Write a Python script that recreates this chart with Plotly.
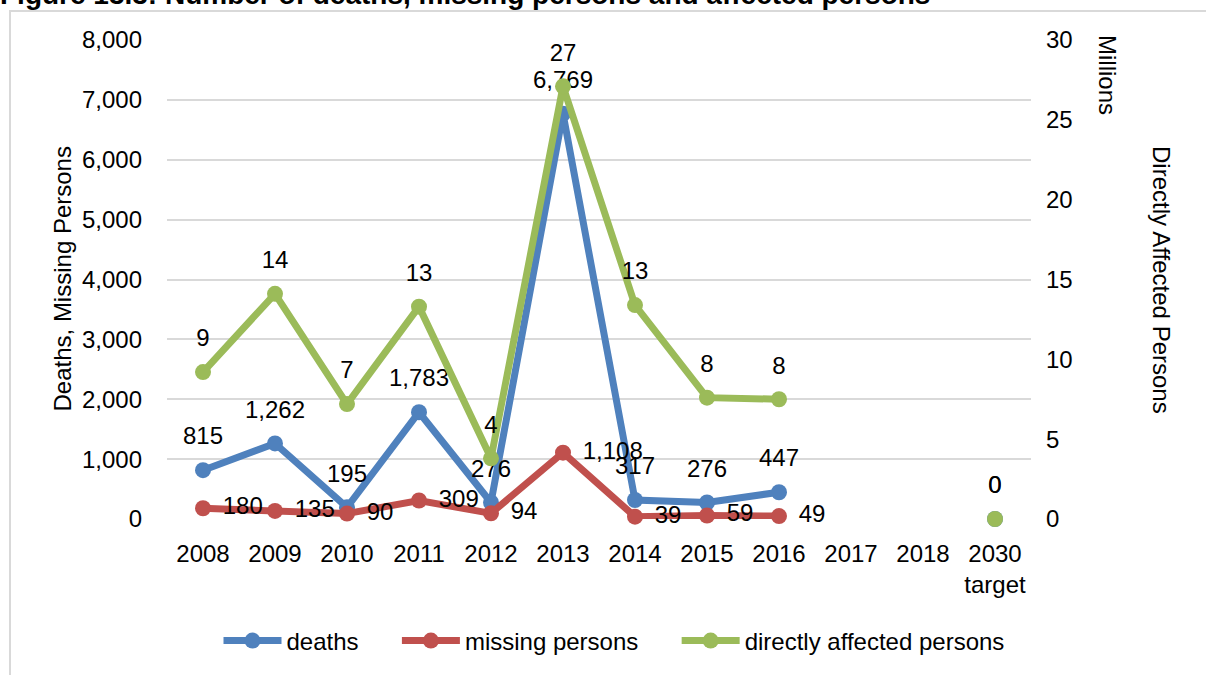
import plotly.graph_objects as go

categories = ["2008", "2009", "2010", "2011", "2012", "2013", "2014", "2015", "2016", "2017", "2018", "2030<br>target"]
deaths = [815, 1262, 195, 1783, 276, 6769, 317, 276, 447, None, None, 0]
missing = [180, 135, 90, 309, 94, 1108, 39, 59, 49, None, None, None]
affected_millions = [9.2, 14.1, 7.2, 13.3, 3.8, 27.1, 13.4, 7.6, 7.5, None, None, 0]

FONT = "Liberation Sans, Arial, sans-serif"
FS = 24
BLUE, RED, GREEN = "#4F81BD", "#C0504D", "#9BBB59"
NB = "\u00a0"

L, R, T, B = 167, 175, 40, 156
W, H = 1206, 675
PW, PH = W - L - R, H - T - B


def px(x):
    return (x - L) / PW


def py(y):
    return (H - B - y) / PH


series = [
    ("deaths" + NB * 5, deaths, BLUE, "y", "top center", lambda v: f"{v:,}"),
    ("missing persons" + NB * 5, missing, RED, "y", "middle right", lambda v: f"{v:,}"),
    ("directly affected persons", affected_millions, GREEN, "y2", "top center", lambda v: f"{v:.0f}"),
]

fig = go.Figure()
for name, vals, color, yax, tpos, fmt in series:
    fig.add_trace(go.Scatter(
        x=categories, y=vals, name=name, mode="lines+markers",
        line=dict(color=color, width=7), marker=dict(size=16, color=color),
        cliponaxis=False, yaxis=yax))
for name, vals, color, yax, tpos, fmt in series:
    fig.add_trace(go.Scatter(
        x=categories, y=vals, mode="markers+text", showlegend=False, hoverinfo="skip",
        marker=dict(size=30, color="rgba(0,0,0,0)"),
        text=[None if v is None else fmt(v) for v in vals],
        textposition=tpos, textfont=dict(size=FS, color="black"),
        cliponaxis=False, yaxis=yax))

fig.update_layout(
    width=W, height=H,
    paper_bgcolor="white", plot_bgcolor="white",
    font=dict(family=FONT, size=FS, color="black"),
    margin=dict(l=L, r=R, t=T, b=B),
    showlegend=True,
    legend=dict(orientation="h", x=px(614), xanchor="center", y=py(641), yanchor="middle",
                font=dict(size=FS), itemwidth=58, traceorder="normal"),
    xaxis=dict(type="category", range=[-0.5, 11.5], showgrid=False, showline=False,
               ticks="", tickfont=dict(size=FS), ticklabelstandoff=18),
    yaxis=dict(range=[0, 8000], dtick=1000, tickformat=",", showgrid=True,
               gridcolor="#D9D9D9", gridwidth=2, zeroline=False, showline=False,
               ticklabelstandoff=24, tickfont=dict(size=FS)),
    yaxis2=dict(range=[0, 30], dtick=5, overlaying="y", side="right", showgrid=False,
                zeroline=False, showline=False, ticklabelstandoff=14, tickfont=dict(size=FS)),
    annotations=[
        dict(text="Deaths, Missing Persons", textangle=-90, xref="paper", yref="paper",
             x=px(62), xanchor="center", y=0.5, yanchor="middle", showarrow=False,
             font=dict(size=FS)),
        dict(text="Directly Affected Persons", textangle=90, xref="paper", yref="paper",
             x=px(1162), xanchor="center", y=py(280), yanchor="middle", showarrow=False,
             font=dict(size=FS)),
        dict(text="Millions", textangle=90, xref="paper", yref="paper",
             x=px(1107), xanchor="center", y=py(75), yanchor="middle", showarrow=False,
             font=dict(size=FS)),
        dict(text="<b>Figure 13.3: Number of deaths, missing persons and affected persons</b>",
             xref="paper", yref="paper", x=px(-2), xanchor="left",
             y=py(12), yanchor="bottom", showarrow=False,
             font=dict(size=28, family=FONT)),
    ],
    shapes=[
        dict(type="rect", xref="paper", yref="paper",
             x0=px(10), x1=px(1215), y0=py(690), y1=py(11),
             line=dict(color="#D9D9D9", width=2), layer="below"),
    ],
)

fig.write_html("out.html", config={"displayModeBar": False},
               post_script="document.body.style.margin='0';")
